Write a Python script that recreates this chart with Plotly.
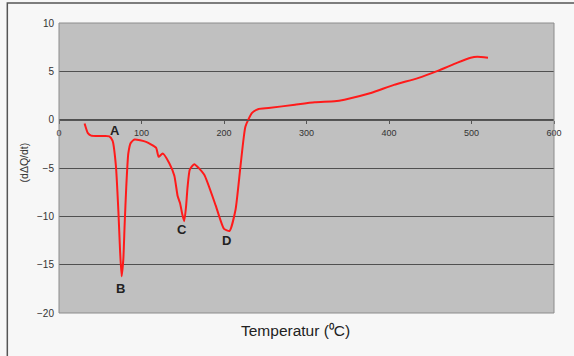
import plotly.graph_objects as go

# Data
temperature = [31, 35, 39, 50, 61, 65, 69, 72, 74, 75.9, 78, 79.5, 81.5, 84, 87, 91.6, 105.6, 117.6,
               120.8, 125.7, 133.7, 139.8, 143.8, 146.6, 149.5, 151.8, 154, 155.8, 158.6, 163.9,
               175.9, 190, 200, 206.8, 214, 220, 226, 234, 242, 254, 286, 310, 334, 346, 378,
               406, 435, 459, 483, 499, 507, 520]
dqdt = [-0.4, -1.4, -1.65, -1.7, -1.72, -2.2, -4.8, -9.5, -13.5, -16.2, -14.4, -11.0, -7.0, -3.5,
        -2.4, -2.06, -2.3, -2.9, -3.85, -3.5, -4.5, -5.8, -7.9, -8.6, -9.8, -10.5, -9.0, -7.0,
        -5.15, -4.6, -5.67, -8.9, -11.3, -11.5, -9.3, -4.8, -0.7, 0.7, 1.1, 1.2, 1.55, 1.8,
        1.9, 2.07, 2.75, 3.6, 4.3, 5.05, 5.9, 6.4, 6.5, 6.4]

peak_labels = ["A", "B", "C", "D"]
peak_x = [67.5, 74.7, 149, 203.6]
peak_y = [-1.15, -17.5, -11.4, -12.5]

x_ticks = [0, 100, 200, 300, 400, 500, 600]
y_ticks = [-20, -15, -10, -5, 0, 5, 10]

font_family = "Arial, Liberation Sans, sans-serif"

fig = go.Figure()
fig.add_trace(go.Scatter(
    x=temperature, y=dqdt, mode="lines",
    line=dict(color="#ff1a1a", width=2, shape="spline", smoothing=0.5),
    hoverinfo="skip", showlegend=False,
))

for lab, px, py in zip(peak_labels, peak_x, peak_y):
    fig.add_annotation(x=px, y=py, text="<b>%s</b>" % lab, showarrow=False,
                       font=dict(family=font_family, size=13, color="#222222"))

# y axis title
fig.add_annotation(xref="paper", yref="paper", x=-0.0703, y=0.52, text="(d\u0394Q/dt)",
                   textangle=-90, showarrow=False, xanchor="center", yanchor="middle",
                   font=dict(family=font_family, size=10.5, color="#333333"))
# x axis title
fig.add_annotation(xref="paper", yref="paper", x=0.4776, y=-0.062,
                   text="Temperatur (\u2070C)",
                   showarrow=False, xanchor="center", yanchor="middle",
                   font=dict(family=font_family, size=15.5, color="#222222"))

# plot area border
fig.add_shape(type="rect", xref="paper", yref="paper", x0=0, x1=1, y0=0, y1=1,
              line=dict(color="#8c8c8c", width=1), layer="above")
# outer frame
fig.add_shape(type="rect", xref="paper", yref="paper", x0=-0.1044, x1=1.2, y0=-0.3, y1=1.069,
              line=dict(color="#555555", width=1.5), layer="below")

fig.update_layout(
    width=574, height=356,
    margin=dict(l=59, r=17, t=23, b=43),
    paper_bgcolor="#f7f7f7",
    plot_bgcolor="#c0c0c0",
    font=dict(family=font_family, color="#333333"),
    xaxis=dict(range=[0, 600], tickvals=x_ticks, showgrid=False, zeroline=False,
               anchor="free", position=2/3, showline=True, linecolor="#555555", linewidth=1,
               ticks="outside", ticklen=3, tickcolor="#555555", ticklabelstandoff=2,
               tickfont=dict(size=9, color="#333333")),
    yaxis=dict(range=[-20, 10], tickvals=y_ticks, showgrid=True, gridcolor="#505050",
               gridwidth=1, zeroline=False, showline=False, ticks="", ticklabelstandoff=4,
               tickfont=dict(size=10, color="#333333")),
)

fig.write_html("out.html")
